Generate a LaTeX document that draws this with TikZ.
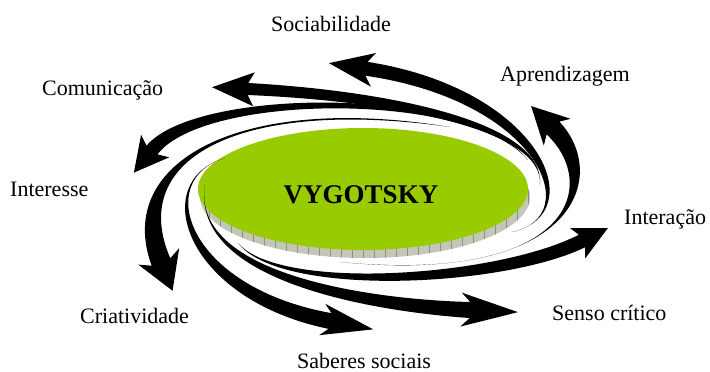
\documentclass[tikz,border=0pt]{standalone}
\usepackage{fontspec}
\setmainfont{Liberation Serif}
\usetikzlibrary{calc,patterns.meta}

\definecolor{discgreen}{RGB}{153,204,0}
\definecolor{rimgray}{RGB}{196,199,184}
\definecolor{rimline}{RGB}{140,144,128}

\tikzset{
  armfill/.style={fill=black},
  termtext/.style={inner sep=0pt, anchor=base west, font=\fontsize{22}{24}\selectfont},
  titletext/.style={inner sep=0pt, anchor=base, font=\fontsize{27}{30}\selectfont\bfseries},
  discsize/.style={x radius=165pt, y radius=61pt}
}

% A tapered, curved arm of the swirl.
% Centre line: #1-0 (pointed tail) .. #1-1 .. #1-2 .. #1-3 (base of the head).
% #2,#3,#4: half widths at the control points and at the head base,
% #5: head length, #6: half width of the head, #7: depth of the notch.
\newcommand{\swirlarm}[7]{%
  \path ($(#1-3)!#7pt!(#1-2)$) coordinate (#1-b);
  \fill[armfill]
    (#1-0) .. controls ($(#1-1)!#2pt!-90:(#1-2)$) and ($(#1-2)!#3pt!-90:(#1-3)$)
      .. ($(#1-3)!#4pt!90:(#1-2)$)
    -- ($(#1-b)!#6pt!90:(#1-2)$)
    -- ($(#1-3)!#5pt!180:(#1-2)$)
    -- ($(#1-b)!#6pt!-90:(#1-2)$)
    -- ($(#1-3)!#4pt!-90:(#1-2)$)
      .. controls ($(#1-2)!#3pt!90:(#1-3)$) and ($(#1-1)!#2pt!90:(#1-2)$)
      .. (#1-0) -- cycle;
}

\begin{document}
\begin{tikzpicture}[x=1pt,y=-1pt]
\useasboundingbox (0,0) rectangle (710,372);

% the disc: textured rim below, green face on top
\fill[rimgray] (365,197) ellipse [discsize];
\path[pattern={Lines[angle=90,distance=11pt,line width=0.35pt]}, pattern color=rimline]
  (365,197) ellipse [discsize];
\fill[discgreen] (363,189) ellipse [discsize];
\node[titletext] (vyg) at (361,203) {VYGOTSKY};

% centre lines of the arms
\coordinate (soc-0) at (512,232); \coordinate (soc-1) at (590,215);
\coordinate (soc-2) at (540,95);  \coordinate (soc-3) at (366.5,68.8);

\coordinate (com-0) at (540,185); \coordinate (com-1) at (545,125);
\coordinate (com-2) at (390,96);  \coordinate (com-3) at (248,89);

\coordinate (ins-0) at (528,160); \coordinate (ins-1) at (470,88);
\coordinate (ins-2) at (200,90);  \coordinate (ins-3) at (152,150);

\coordinate (cri-0) at (450,127); \coordinate (cri-1) at (240,95);
\coordinate (cri-2) at (120,160); \coordinate (cri-3) at (161,262);

\coordinate (sab-0) at (225,158); \coordinate (sab-1) at (150,180);
\coordinate (sab-2) at (185,293); \coordinate (sab-3) at (330,321);

\coordinate (sen-0) at (205,185); \coordinate (sen-1) at (190,280);
\coordinate (sen-2) at (380,306); \coordinate (sen-3) at (470,310);

\coordinate (itr-0) at (238,243); \coordinate (itr-1) at (280,295);
\coordinate (itr-2) at (500,282); \coordinate (itr-3) at (582,241);

\coordinate (apr-0) at (340,262); \coordinate (apr-1) at (575,285);
\coordinate (apr-2) at (605,180); \coordinate (apr-3) at (553,128);

% the arms, swirling anticlockwise round the disc
\swirlarm{soc}{4}{6}{7}{38}{17}{7}
\swirlarm{com}{3}{5}{6}{36}{17}{6}
\swirlarm{ins}{3}{5}{7}{29}{18}{5}
\swirlarm{cri}{3}{7}{10}{31}{22}{6}
\swirlarm{sab}{3}{6}{8}{44}{16}{8}
\swirlarm{sen}{3}{6}{8}{48}{17}{9}
\swirlarm{itr}{3}{6}{7}{29}{17}{5}
\swirlarm{apr}{3}{7}{9}{31}{19}{6}

% labels
\node[termtext] (l-soc) at (271,31)  {Sociabilidade};
\node[termtext] (l-com) at (42,95)   {Comunicação};
\node[termtext] (l-apr) at (500,81)  {Aprendizagem};
\node[termtext] (l-ins) at (10,196)  {Interesse};
\node[termtext] (l-itr) at (624,224) {Interação};
\node[termtext] (l-cri) at (80,323)  {Criatividade};
\node[termtext] (l-sen) at (552,320) {Senso crítico};
\node[termtext] (l-sab) at (297,368) {Saberes sociais};
\end{tikzpicture}
\end{document}
